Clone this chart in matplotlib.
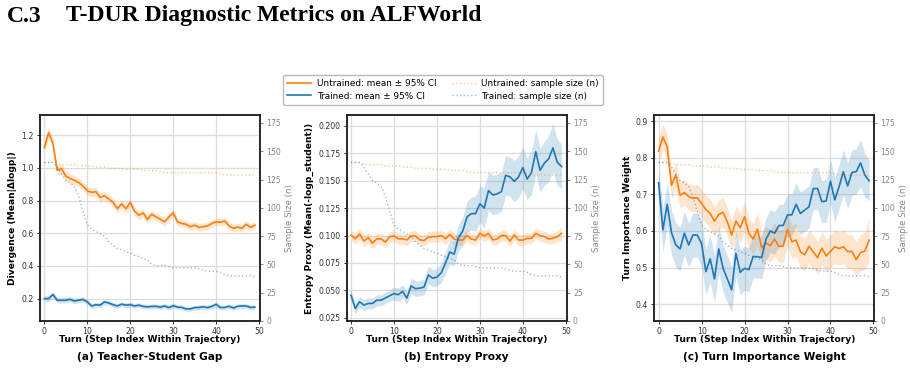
import matplotlib
matplotlib.use("Agg")
import matplotlib.pyplot as plt
import numpy as np
from matplotlib.lines import Line2D

turns = list(range(50))

# ---------------- data ----------------
# (a) Teacher-Student Gap
a_un = [1.124, 1.216, 1.150, 0.985, 0.995, 0.950, 0.935, 0.925, 0.910, 0.890,
        0.860, 0.850, 0.855, 0.820, 0.830, 0.810, 0.790, 0.750, 0.780, 0.750,
        0.790, 0.735, 0.710, 0.725, 0.685, 0.717, 0.700, 0.686, 0.670, 0.700,
        0.725, 0.670, 0.660, 0.655, 0.640, 0.650, 0.635, 0.640, 0.645, 0.660,
        0.670, 0.668, 0.675, 0.645, 0.630, 0.638, 0.630, 0.655, 0.636, 0.650]
a_un_ci = [0.030, 0.035, 0.035, 0.030, 0.030, 0.030, 0.030, 0.028, 0.028, 0.028,
           0.027, 0.027, 0.027, 0.027, 0.027, 0.026, 0.026, 0.026, 0.026, 0.026,
           0.025, 0.025, 0.025, 0.025, 0.025, 0.024, 0.024, 0.024, 0.024, 0.024,
           0.024, 0.023, 0.023, 0.023, 0.023, 0.023, 0.023, 0.023, 0.023, 0.023,
           0.023, 0.023, 0.023, 0.023, 0.023, 0.023, 0.023, 0.023, 0.023, 0.023]
a_tr = [0.200, 0.200, 0.225, 0.190, 0.190, 0.190, 0.196, 0.185, 0.190, 0.195,
        0.180, 0.155, 0.163, 0.160, 0.180, 0.173, 0.163, 0.155, 0.166, 0.160,
        0.163, 0.155, 0.160, 0.152, 0.150, 0.152, 0.153, 0.148, 0.155, 0.145,
        0.157, 0.148, 0.146, 0.137, 0.137, 0.145, 0.146, 0.150, 0.145, 0.153,
        0.165, 0.145, 0.146, 0.153, 0.143, 0.153, 0.155, 0.155, 0.146, 0.148]
a_tr_ci = [0.018, 0.018, 0.018, 0.016, 0.016, 0.016, 0.016, 0.016, 0.016, 0.016,
           0.015, 0.015, 0.015, 0.015, 0.015, 0.015, 0.015, 0.015, 0.015, 0.015,
           0.015, 0.015, 0.015, 0.015, 0.015, 0.015, 0.015, 0.015, 0.015, 0.015,
           0.015, 0.015, 0.015, 0.015, 0.015, 0.015, 0.015, 0.015, 0.015, 0.015,
           0.015, 0.015, 0.015, 0.015, 0.015, 0.015, 0.015, 0.015, 0.015, 0.015]

# (b) Entropy Proxy
b_un = [0.1005, 0.0970, 0.1015, 0.0950, 0.0980, 0.0930, 0.0970, 0.0970, 0.0940, 0.0990,
        0.0995, 0.0970, 0.0970, 0.0960, 0.0995, 0.0995, 0.0960, 0.0955, 0.0985, 0.0990,
        0.0990, 0.1000, 0.0970, 0.1010, 0.0968, 0.0959, 0.0959, 0.1000, 0.0968, 0.0959,
        0.1020, 0.0996, 0.1020, 0.0959, 0.0968, 0.1000, 0.1000, 0.0950, 0.1005, 0.0959,
        0.0959, 0.0974, 0.0974, 0.1020, 0.0999, 0.0990, 0.0968, 0.0975, 0.0990, 0.1020]
b_un_ci = [0.005, 0.005, 0.005, 0.005, 0.005, 0.005, 0.005, 0.005, 0.005, 0.005,
           0.005, 0.005, 0.005, 0.005, 0.005, 0.005, 0.005, 0.005, 0.005, 0.005,
           0.005, 0.005, 0.005, 0.005, 0.005, 0.005, 0.005, 0.005, 0.005, 0.005,
           0.005, 0.005, 0.005, 0.005, 0.005, 0.005, 0.005, 0.005, 0.005, 0.005,
           0.005, 0.005, 0.005, 0.005, 0.005, 0.005, 0.005, 0.005, 0.005, 0.006]
b_tr = [0.0455, 0.0335, 0.0395, 0.0365, 0.0380, 0.0380, 0.0410, 0.0410, 0.0430, 0.0450,
        0.0470, 0.0460, 0.0490, 0.0430, 0.0540, 0.0515, 0.0520, 0.0530, 0.0640, 0.0610,
        0.0620, 0.0660, 0.0750, 0.0850, 0.0830, 0.0980, 0.1040, 0.1170, 0.1200, 0.1200,
        0.1290, 0.1250, 0.1410, 0.1370, 0.1380, 0.1400, 0.1550, 0.1535, 0.1495, 0.1535,
        0.1620, 0.1515, 0.1575, 0.1765, 0.1595, 0.1660, 0.1700, 0.1800, 0.1670, 0.1630]
b_tr_ci = [0.005, 0.005, 0.005, 0.005, 0.005, 0.005, 0.005, 0.005, 0.005, 0.005,
           0.006, 0.006, 0.006, 0.006, 0.007, 0.007, 0.007, 0.007, 0.008, 0.008,
           0.008, 0.009, 0.010, 0.011, 0.011, 0.012, 0.013, 0.014, 0.015, 0.016,
           0.017, 0.018, 0.018, 0.018, 0.018, 0.018, 0.018, 0.018, 0.019, 0.019,
           0.019, 0.019, 0.020, 0.020, 0.020, 0.020, 0.021, 0.022, 0.021, 0.020]

# (c) Turn Importance Weight
c_un = [0.818, 0.857, 0.830, 0.725, 0.753, 0.698, 0.705, 0.694, 0.689, 0.691,
        0.675, 0.659, 0.648, 0.627, 0.645, 0.651, 0.625, 0.589, 0.627, 0.609,
        0.639, 0.594, 0.578, 0.605, 0.554, 0.567, 0.560, 0.578, 0.558, 0.559,
        0.604, 0.571, 0.575, 0.543, 0.535, 0.558, 0.543, 0.527, 0.553, 0.532,
        0.544, 0.557, 0.552, 0.557, 0.544, 0.544, 0.522, 0.541, 0.545, 0.575]
c_un_ci = [0.035, 0.035, 0.035, 0.035, 0.035, 0.035, 0.035, 0.035, 0.037, 0.037,
           0.038, 0.038, 0.040, 0.040, 0.040, 0.040, 0.040, 0.040, 0.040, 0.040,
           0.042, 0.042, 0.042, 0.044, 0.044, 0.045, 0.045, 0.045, 0.045, 0.045,
           0.045, 0.045, 0.045, 0.045, 0.045, 0.045, 0.045, 0.045, 0.045, 0.045,
           0.045, 0.045, 0.045, 0.046, 0.046, 0.046, 0.048, 0.050, 0.052, 0.058]
c_tr = [0.732, 0.603, 0.673, 0.596, 0.562, 0.551, 0.594, 0.562, 0.589, 0.589,
        0.566, 0.489, 0.524, 0.469, 0.551, 0.498, 0.469, 0.439, 0.539, 0.487,
        0.498, 0.494, 0.530, 0.530, 0.527, 0.578, 0.600, 0.594, 0.615, 0.615,
        0.644, 0.644, 0.673, 0.648, 0.657, 0.666, 0.716, 0.716, 0.680, 0.682,
        0.736, 0.685, 0.721, 0.762, 0.723, 0.760, 0.762, 0.786, 0.753, 0.737]
c_tr_ci = [0.045, 0.060, 0.060, 0.060, 0.060, 0.060, 0.060, 0.060, 0.060, 0.060,
           0.062, 0.062, 0.064, 0.064, 0.064, 0.064, 0.064, 0.062, 0.062, 0.062,
           0.060, 0.060, 0.058, 0.058, 0.058, 0.058, 0.058, 0.058, 0.058, 0.058,
           0.058, 0.058, 0.058, 0.058, 0.058, 0.058, 0.058, 0.058, 0.058, 0.058,
           0.060, 0.060, 0.060, 0.062, 0.062, 0.062, 0.062, 0.064, 0.060, 0.055]

# sample sizes (shared)
n_un = [140, 140, 140, 139, 138, 138, 138, 138, 137, 137,
        137, 137, 136, 136, 136, 135, 135, 135, 135, 134,
        134, 134, 134, 133, 133, 133, 133, 132, 131, 131,
        131, 131, 131, 131, 131, 131, 131, 131, 131, 131,
        131, 130, 129, 129, 129, 129, 129, 129, 129, 129]
n_tr = [140, 140, 140, 136, 130, 124, 122, 119, 110, 97,
        85, 81, 79, 77, 75, 70, 67, 64, 63, 61,
        60, 58, 57, 55, 54, 50, 49, 49, 49, 48,
        47, 47, 47, 47, 47, 47, 46, 45, 44, 44,
        44, 43, 41, 40, 40, 40, 40, 40, 40, 39]

panels = [
    ("(a) Teacher-Student Gap", "Divergence (Mean|Δlogp|)", a_un, a_un_ci, a_tr, a_tr_ci,
     (0.063, 1.324), [0.2, 0.4, 0.6, 0.8, 1.0, 1.2], ["0.2", "0.4", "0.6", "0.8", "1.0", "1.2"]),
    ("(b) Entropy Proxy", "Entropy Proxy (Mean(-logp_student))", b_un, b_un_ci, b_tr, b_tr_ci,
     (0.022, 0.210), [0.025, 0.05, 0.075, 0.1, 0.125, 0.15, 0.175, 0.2],
     ["0.025", "0.050", "0.075", "0.100", "0.125", "0.150", "0.175", "0.200"]),
    ("(c) Turn Importance Weight", "Turn Importance Weight", c_un, c_un_ci, c_tr, c_tr_ci,
     (0.354, 0.917), [0.4, 0.5, 0.6, 0.7, 0.8, 0.9], ["0.4", "0.5", "0.6", "0.7", "0.8", "0.9"]),
]

ORANGE = "#ff7f0e"
BLUE = "#1f77b4"
W, H = 910, 371
fig = plt.figure(figsize=(W / 100, H / 100), dpi=100)
plt.rcParams['font.family'] = ['DejaVu Sans']

lefts = [40, 346.7, 654.3]
ax_w = 220
ax_top, ax_bot = 115, 321
n_ticks = [0, 25, 50, 75, 100, 125, 150, 175]

x = np.array(turns)
for (sub, ylab, un, un_ci, tr, tr_ci, ylim, yt, ytl), L in zip(panels, lefts):
    ax = fig.add_axes([L / W, 1 - ax_bot / H, ax_w / W, (ax_bot - ax_top) / H])
    un = np.array(un); tr = np.array(tr)
    un_ci = np.array(un_ci); tr_ci = np.array(tr_ci)
    ax.fill_between(x, un - un_ci, un + un_ci, color=ORANGE, alpha=0.2, lw=0)
    ax.plot(x, un, color=ORANGE, lw=1.2)
    ax.fill_between(x, tr - tr_ci, tr + tr_ci, color=BLUE, alpha=0.2, lw=0)
    ax.plot(x, tr, color=BLUE, lw=1.2)
    ax.set_xlim(-1, 50.2)
    ax.set_ylim(*ylim)
    ax.set_yticks(yt)
    ax.set_yticklabels(ytl)
    ax.set_xticks([0, 10, 20, 30, 40, 50])
    ax.grid(True, color="#dddddd", lw=0.9)
    ax.set_axisbelow(True)
    for s in ax.spines.values():
        s.set_linewidth(1.1)
        s.set_color("#222222")
    ax.tick_params(labelsize=5.6, length=2.5, width=0.7, colors="#333333", pad=2)
    ax.set_ylabel(ylab, fontsize=6.6, fontweight="bold", labelpad=3)
    ax2 = ax.twinx()
    ax2.plot(x, n_un, color=ORANGE, lw=0.9, ls=(0, (1, 2)), alpha=0.55)
    ax2.plot(x, n_tr, color=BLUE, lw=0.9, ls=(0, (1, 2)), alpha=0.55)
    ax2.set_ylim(0, 182)
    ax2.set_yticks(n_ticks)
    ax2.tick_params(labelsize=5.6, length=2.5, width=0.7, colors="#888888", pad=2)
    ax2.set_ylabel("Sample Size (n)", fontsize=6.2, color="#888888", labelpad=3)
    for s in ax2.spines.values():
        s.set_linewidth(1.1)
        s.set_color("#222222")
    cx = (L + ax_w / 2) / W
    fig.text(cx, 1 - 339.5 / H, "Turn (Step Index Within Trajectory)", ha="center", va="center",
             fontsize=6.6, fontweight="bold")
    fig.text(cx, 1 - 357.5 / H, sub, ha="center", va="center", fontsize=7.6, fontweight="bold")

handles = [Line2D([], [], color=ORANGE, lw=1.2),
           Line2D([], [], color=BLUE, lw=1.2),
           Line2D([], [], color=ORANGE, lw=0.9, ls=(0, (1, 2)), alpha=0.55),
           Line2D([], [], color=BLUE, lw=0.9, ls=(0, (1, 2)), alpha=0.55)]
labels = ["Untrained: mean ± 95% CI", "Trained: mean ± 95% CI",
          "Untrained: sample size (n)", "Trained: sample size (n)"]
fig.legend(handles, labels, ncol=2, loc="center", bbox_to_anchor=(443 / W, 1 - 90 / H),
           fontsize=6.4, frameon=True, edgecolor="#aaaaaa", fancybox=True,
           handlelength=2.7, handletextpad=0.6, columnspacing=1.7,
           borderpad=0.5, labelspacing=0.35)

fig.text(7 / W, 1 - 16 / H, "C.3", fontsize=17, fontweight="bold",
         family="Liberation Serif", ha="left", va="center")
fig.text(66 / W, 1 - 16 / H, "T-DUR Diagnostic Metrics on ALFWorld", fontsize=17,
         fontweight="bold", family="Liberation Serif", ha="left", va="center")

fig.savefig("out.png", dpi=100)
